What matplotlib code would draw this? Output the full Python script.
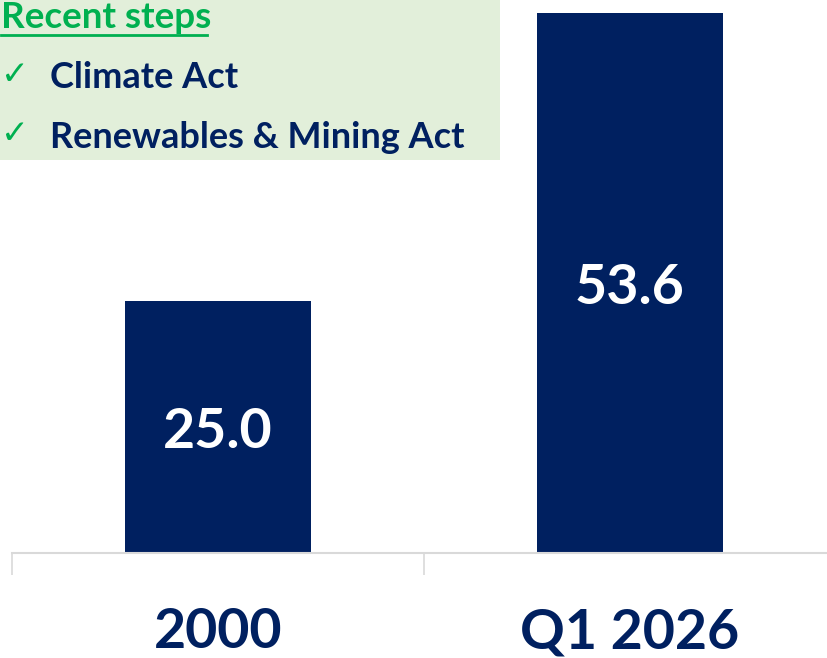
import matplotlib
matplotlib.use("Agg")
import matplotlib.pyplot as plt
from matplotlib.patches import Rectangle

categories = ["2000", "Q1 2026"]
values = [25.0, 53.6]
value_labels = ["25.0", "53.6"]
box_title = "Recent steps"
box_items = ["Climate Act", "Renewables & Mining Act"]

NAVY = "#002060"
GREEN = "#00B050"
BOXBG = "#E2EFDA"
FONT = ["Lato", "DejaVu Sans"]

W, H = 828, 658
fig = plt.figure(figsize=(W / 100, H / 100), dpi=100)
ax = fig.add_axes([12 / W, (H - 553) / H, 824 / W, 553 / H])

x = list(range(len(categories)))
ax.bar(x, values, width=0.45, color=NAVY, zorder=2)
ax.set_xlim(-0.5, 1.5)
ax.set_ylim(0, 54.9)

for xi, v, lab in zip(x, values, value_labels):
    ax.text(xi, v / 2 - 0.5, lab, ha="center", va="center",
            color="white", fontsize=40, fontweight="bold", family=FONT, zorder=3)

for s in ["top", "right", "left"]:
    ax.spines[s].set_visible(False)
ax.spines["bottom"].set_color("#D9D9D9")
ax.spines["bottom"].set_linewidth(1.5)
ax.set_yticks([])
ax.set_xticks(x)
ax.set_xticklabels(categories, fontsize=40, fontweight="bold", color=NAVY, family=FONT)
ax.tick_params(axis="x", which="major", length=0, pad=39)
ax.set_xticks([-0.5, 0.5, 1.5], minor=True)
ax.tick_params(axis="x", which="minor", length=16, width=1.2, color="#D9D9D9")

# green box
fig.patches.append(Rectangle((0, (H - 160) / H), 500 / W, 160 / H,
                             transform=fig.transFigure, facecolor=BOXBG,
                             edgecolor="none", zorder=5))
fig.text(1 / W, 1 - 18 / H, box_title, ha="left", va="center", color=GREEN,
         fontsize=26.5, fontweight="bold", family=FONT, zorder=6)
fig.add_artist(plt.Line2D([1 / W, 207 / W], [1 - 35 / H, 1 - 35 / H],
                          transform=fig.transFigure, color=GREEN, lw=2, zorder=6))
for i, item in enumerate(box_items):
    yc = 1 - (78 + 59 * i) / H
    fig.text(1 / W, yc + 4 / H, "\u2713", ha="left", va="center", color=GREEN,
             fontsize=24, fontweight="bold", family=["DejaVu Sans"], zorder=6)
    fig.text(50 / W, yc, item, ha="left", va="center", color=NAVY,
             fontsize=26, fontweight="bold", family=FONT, zorder=6)

fig.savefig("out.png", dpi=100)
